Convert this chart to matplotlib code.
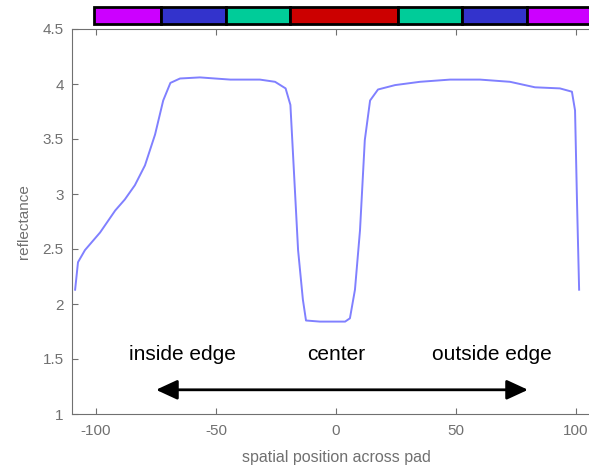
import matplotlib
matplotlib.use("Agg")
import matplotlib.pyplot as plt
from matplotlib.patches import Rectangle

# reflectance profile across the pad
pos = [-108.7, -107.5, -104.6, -98.3, -92.0, -88.0, -83.8, -79.6, -75.4, -72.0,
       -69.0, -65.0, -56.7, -50.4, -44.0, -31.7, -25.4, -21.0, -19.0, -18.0,
       -15.8, -13.8, -12.5, -6.7, 3.8, 5.8, 7.9, 10.0, 12.0, 14.2,
       17.5, 24.6, 35.0, 47.5, 60.0, 72.5, 82.9, 93.3, 98.3, 99.6,
       100.4, 101.3]
refl = [2.13, 2.38, 2.49, 2.65, 2.85, 2.95, 3.08, 3.26, 3.54, 3.85,
        4.01, 4.05, 4.06, 4.05, 4.04, 4.04, 4.02, 3.96, 3.81, 3.40,
        2.49, 2.04, 1.85, 1.84, 1.84, 1.87, 2.13, 2.67, 3.49, 3.85,
        3.95, 3.99, 4.02, 4.04, 4.04, 4.02, 3.97, 3.96, 3.93, 3.76,
        2.95, 2.13]

# zone bar on top
bar_edges = [-101, -73, -46, -19, 26, 52.5, 79.5, 107]
bar_colors = ["#cc00ff", "#3333cc", "#00cc99", "#cc0000", "#00cc99", "#3333cc", "#cc00ff"]

labels = ["inside edge", "center", "outside edge"]
label_x = [-64, 0, 65]

xticks = [-100, -50, 0, 50, 100]
yticks = [1, 1.5, 2, 2.5, 3, 3.5, 4, 4.5]
yticklabels = ["1", "1.5", "2", "2.5", "3", "3.5", "4", "4.5"]

grey = "#707070"
plt.rcParams["font.family"] = ["Liberation Sans", "DejaVu Sans"]

fig = plt.figure(figsize=(5.89, 4.68), dpi=100)
ax = fig.add_axes([72/589, 1 - 414/468, 528/589, 385/468])

ax.plot(pos, refl, color="#8080ff", lw=1.4)

ax.set_xlim(-110, 110)
ax.set_ylim(1, 4.5)
ax.set_xticks(xticks)
ax.set_yticks(yticks)
ax.set_xticklabels([str(t) for t in xticks])
ax.set_yticklabels(yticklabels)
ax.tick_params(direction="in", length=4, colors=grey, labelsize=11,
               top=True, right=True, labelcolor=grey)
ax.tick_params(axis="x", pad=7)
ax.tick_params(axis="y", pad=6)
for s in ax.spines.values():
    s.set_color(grey)
ax.spines["right"].set_visible(False)
ax.set_xlabel("spatial position across pad", color=grey, fontsize=11.5, labelpad=9)
ax.set_ylabel("reflectance", color=grey, fontsize=11, labelpad=8)

# colored zone bar above the axes
tr = ax.get_xaxis_transform()
for i in range(len(bar_colors)):
    ax.add_patch(Rectangle((bar_edges[i], 1.013), bar_edges[i+1] - bar_edges[i], 0.044,
                           transform=tr, facecolor=bar_colors[i], edgecolor="black",
                           lw=2, clip_on=False))

for t, xx in zip(labels, label_x):
    ax.text(xx, 1.49, t, ha="center", va="baseline", fontsize=15, color="black")

ax.annotate("", xy=(-75, 1.22), xytext=(80, 1.22),
            arrowprops=dict(arrowstyle="<|-|>,head_length=1.3,head_width=0.6",
                            color="black", lw=2, shrinkA=0, shrinkB=0))

fig.savefig("out.png", dpi=100)
